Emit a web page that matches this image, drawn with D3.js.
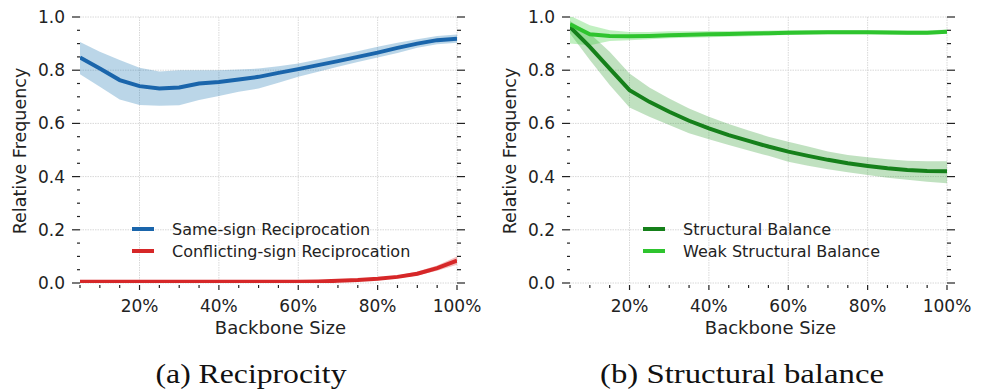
<!DOCTYPE html>
<html>
<head>
<meta charset="utf-8">
<script src="https://cdn.jsdelivr.net/npm/d3@7"></script>
<style>
  body { margin: 0; background: #fff; }
  svg { display: block; }
  text { font-family: 'DejaVu Sans', sans-serif; fill: #222; }
  .caption { font-family: 'Liberation Serif', serif; fill: #111; }
</style>
</head>
<body>
<svg width="987" height="390"></svg>
<script>
const backbone = [5, 10, 15, 20, 25, 30, 35, 40, 45, 50, 55, 60, 65, 70, 75, 80, 85, 90, 95, 100];

// (a) reciprocity
const sameSign      = [0.848, 0.806, 0.763, 0.740, 0.731, 0.735, 0.750, 0.756, 0.765, 0.775, 0.790, 0.804, 0.819, 0.834, 0.850, 0.866, 0.884, 0.900, 0.913, 0.918];
const sameSignHi    = [0.906, 0.869, 0.838, 0.809, 0.795, 0.800, 0.800, 0.800, 0.803, 0.806, 0.815, 0.825, 0.840, 0.856, 0.871, 0.888, 0.903, 0.916, 0.929, 0.934];
const sameSignLo    = [0.785, 0.738, 0.690, 0.669, 0.666, 0.668, 0.688, 0.703, 0.719, 0.731, 0.753, 0.775, 0.794, 0.813, 0.831, 0.848, 0.865, 0.884, 0.898, 0.903];
const conflicting   = [0.005, 0.005, 0.005, 0.005, 0.005, 0.005, 0.005, 0.005, 0.005, 0.005, 0.005, 0.005, 0.006, 0.008, 0.011, 0.016, 0.023, 0.035, 0.056, 0.084];
const conflictingHi = [0.007, 0.007, 0.007, 0.007, 0.007, 0.007, 0.007, 0.007, 0.007, 0.007, 0.007, 0.007, 0.008, 0.010, 0.014, 0.020, 0.028, 0.043, 0.066, 0.100];
const conflictingLo = [0.003, 0.003, 0.003, 0.003, 0.003, 0.003, 0.003, 0.003, 0.003, 0.003, 0.003, 0.003, 0.004, 0.006, 0.008, 0.012, 0.018, 0.028, 0.046, 0.069];

// (b) structural balance
const strong   = [0.963, 0.888, 0.806, 0.725, 0.681, 0.644, 0.610, 0.581, 0.556, 0.534, 0.513, 0.494, 0.478, 0.463, 0.450, 0.440, 0.431, 0.425, 0.421, 0.420];
const strongHi = [0.985, 0.938, 0.869, 0.788, 0.735, 0.694, 0.656, 0.625, 0.598, 0.573, 0.550, 0.531, 0.513, 0.494, 0.481, 0.473, 0.465, 0.460, 0.458, 0.458];
const strongLo = [0.938, 0.838, 0.744, 0.660, 0.625, 0.594, 0.563, 0.540, 0.519, 0.498, 0.478, 0.456, 0.441, 0.428, 0.416, 0.406, 0.396, 0.388, 0.381, 0.375];
const weak     = [0.973, 0.935, 0.929, 0.928, 0.929, 0.931, 0.933, 0.935, 0.936, 0.938, 0.939, 0.941, 0.942, 0.943, 0.943, 0.943, 0.942, 0.941, 0.941, 0.945];
const weakHi   = [1.005, 0.969, 0.950, 0.944, 0.944, 0.946, 0.946, 0.947, 0.947, 0.948, 0.949, 0.950, 0.951, 0.951, 0.951, 0.951, 0.950, 0.949, 0.949, 0.953];
const weakLo   = [0.900, 0.894, 0.910, 0.913, 0.916, 0.920, 0.922, 0.924, 0.926, 0.928, 0.930, 0.932, 0.934, 0.935, 0.935, 0.935, 0.934, 0.933, 0.933, 0.937];

const xTicks = [20, 40, 60, 80, 100];
const yTicks = [0, 0.2, 0.4, 0.6, 0.8, 1.0];
const xMinor = d3.range(5, 101, 5);
const yMinor = d3.range(0, 1.001, 0.05);

const svg = d3.select('svg');

function panel(id, left, series, legendX, caption, captionX, captionLen) {
  const w = 377, h = 266, top = 17;
  const x = d3.scaleLinear().domain([5, 100]).range([0, w]);
  const y = d3.scaleLinear().domain([0, 1]).range([h, 0]);
  const g = svg.append('g').attr('transform', `translate(${left}, ${top})`);

  g.append('clipPath').attr('id', 'clip' + id)
    .append('rect').attr('width', w).attr('height', h);

  // grid
  g.selectAll('.gx').data(xTicks).enter().append('line')
    .attr('x1', d => x(d)).attr('x2', d => x(d)).attr('y1', 0).attr('y2', h)
    .attr('stroke', '#d8d8d8').attr('stroke-width', 1).attr('stroke-dasharray', '1.5,1');
  g.selectAll('.gy').data(yTicks).enter().append('line')
    .attr('y1', d => y(d)).attr('y2', d => y(d)).attr('x1', 0).attr('x2', w)
    .attr('stroke', '#d8d8d8').attr('stroke-width', 1).attr('stroke-dasharray', '1.5,1');

  // ticks
  const isMajorY = d => Math.abs(d * 5 - Math.round(d * 5)) < 1e-6;
  g.selectAll('.ty').data(yMinor).enter().append('line')
    .attr('y1', d => y(d)).attr('y2', d => y(d))
    .attr('x1', d => isMajorY(d) ? -8 : -3).attr('x2', 0)
    .attr('stroke', '#222').attr('stroke-width', 1.2);
  g.selectAll('.tyr').data(yMinor).enter().append('line')
    .attr('y1', d => y(d)).attr('y2', d => y(d))
    .attr('x1', w).attr('x2', d => isMajorY(d) ? w + 8 : w + 4)
    .attr('stroke', '#222').attr('stroke-width', 1.2);
  g.selectAll('.tx').data(xMinor).enter().append('line')
    .attr('x1', d => x(d)).attr('x2', d => x(d))
    .attr('y1', h + 2).attr('y2', d => d % 20 === 0 ? h + 7 : h + 5)
    .attr('stroke', '#222').attr('stroke-width', 1.2);

  g.selectAll('.lx').data(xTicks).enter().append('text')
    .attr('x', d => x(d)).attr('y', h + 29)
    .attr('text-anchor', 'middle').attr('font-size', 17)
    .text(d => d + '%');
  g.selectAll('.ly').data(yTicks).enter().append('text')
    .attr('x', -15).attr('y', d => y(d) + 6)
    .attr('text-anchor', 'end').attr('font-size', 17)
    .text(d => d.toFixed(1));

  g.append('text').attr('x', w / 2 + 12).attr('y', h + 51)
    .attr('text-anchor', 'middle').attr('font-size', 18).text('Backbone Size');
  g.append('text').attr('transform', `translate(${-54}, ${h / 2 + 1}) rotate(-90)`)
    .attr('text-anchor', 'middle').attr('font-size', 17.5).text('Relative Frequency');

  const plot = g.append('g').attr('clip-path', `url(#clip${id})`);
  const area = d3.area().x((d, i) => x(backbone[i])).y0(d => y(d[0])).y1(d => y(d[1]));
  const line = d3.line().x((d, i) => x(backbone[i])).y(d => y(d));

  series.forEach(s => {
    plot.append('path').datum(s.lo.map((v, i) => [v, s.hi[i]]))
      .attr('d', area).attr('fill', s.band).attr('fill-opacity', 0.3);
  });
  series.forEach(s => {
    plot.append('path').datum(s.values)
      .attr('d', line).attr('fill', 'none')
      .attr('stroke', s.color).attr('stroke-width', 4);
  });

  // legend
  series.forEach((s, i) => {
    const ly = 212 + i * 22;
    g.append('line').attr('x1', legendX).attr('x2', legendX + 22)
      .attr('y1', ly).attr('y2', ly)
      .attr('stroke', s.color).attr('stroke-width', 4);
    g.append('text').attr('x', legendX + 40).attr('y', ly + 6)
      .attr('font-size', 16).text(s.name);
  });

  svg.append('text').attr('class', 'caption')
    .attr('x', captionX).attr('y', 383)
    .attr('text-anchor', 'middle').attr('font-size', 27)
    .attr('textLength', captionLen).attr('lengthAdjust', 'spacingAndGlyphs')
    .text(caption);
}

panel('a', 80, [
  { name: 'Same-sign Reciprocation', values: sameSign, hi: sameSignHi, lo: sameSignLo, color: '#1a65ab', band: '#1f77b4' },
  { name: 'Conflicting-sign Reciprocation', values: conflicting, hi: conflictingHi, lo: conflictingLo, color: '#d62728', band: '#d62728' }
], 52, '(a) Reciprocity', 251, 191);

panel('b', 570, [
  { name: 'Structural Balance', values: strong, hi: strongHi, lo: strongLo, color: '#15801a', band: '#2e9a2e' },
  { name: 'Weak Structural Balance', values: weak, hi: weakHi, lo: weakLo, color: '#2ec42e', band: '#32cd32' }
], 73, '(b) Structural balance', 742, 284);
</script>
</body>
</html>
